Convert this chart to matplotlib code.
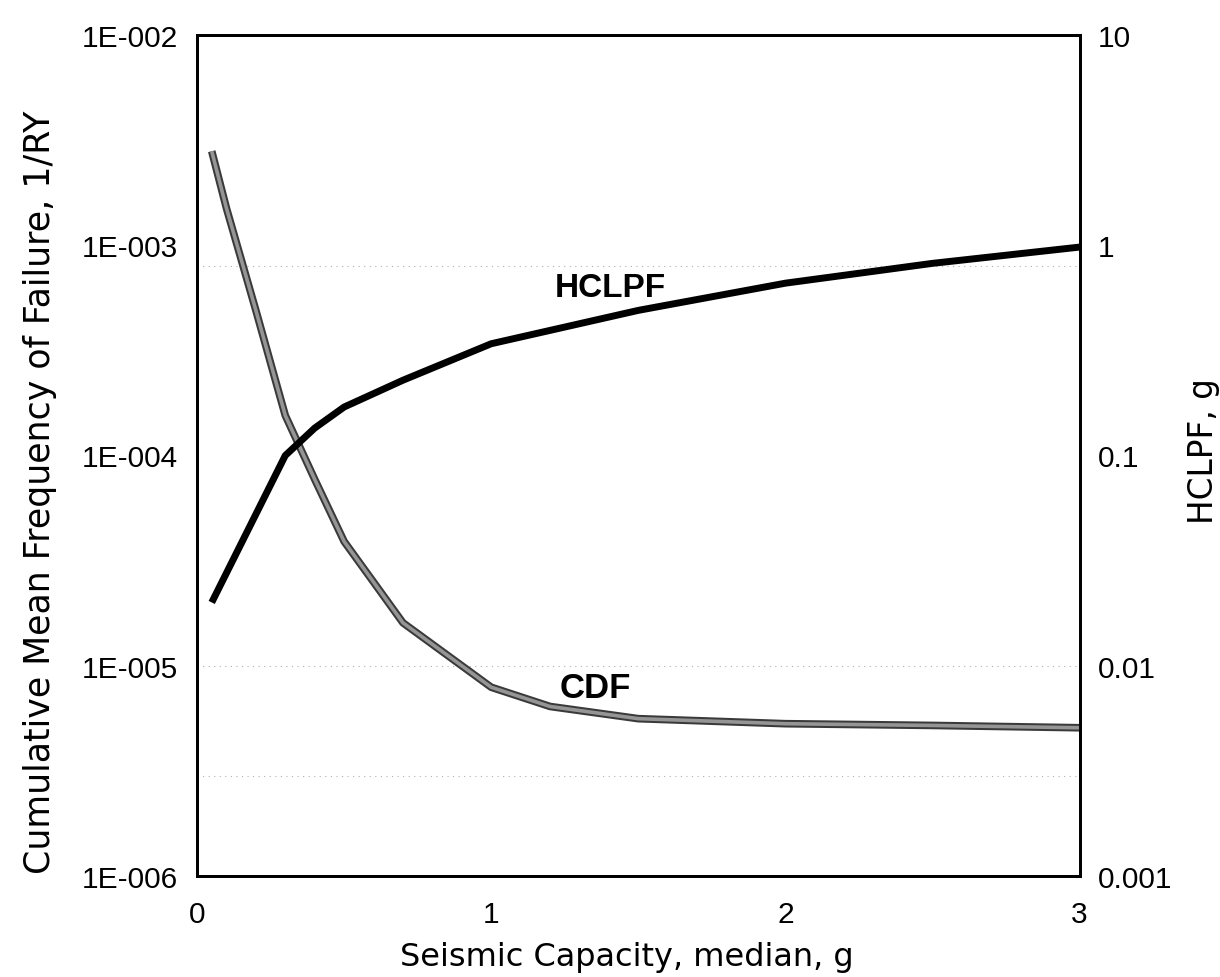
import matplotlib
matplotlib.use("Agg")
import matplotlib.pyplot as plt
import numpy as np

plt.rcParams['font.family'] = ['Liberation Sans', 'DejaVu Sans']

# CDF curve (left axis, 1/RY)
cdf_x = [0.05, 0.1, 0.2, 0.3, 0.4, 0.5, 0.6, 0.7, 1.0, 1.2, 1.5, 2.0, 2.5, 3.0]
cdf_y = [2.8e-3, 1.5e-3, 4.9e-4, 1.55e-4, 7.7e-5, 3.9e-5, 2.5e-5, 1.6e-5,
         7.9e-6, 6.4e-6, 5.6e-6, 5.3e-6, 5.2e-6, 5.07e-6]

# HCLPF curve (right axis, g)
hclpf_x = [0.05, 0.3, 0.4, 0.5, 0.7, 1.0, 1.5, 2.0, 2.5, 3.0]
hclpf_y = [0.02, 0.1, 0.135, 0.17, 0.228, 0.34, 0.49, 0.66, 0.82, 0.98]

left_ticks = [1e-6, 1e-5, 1e-4, 1e-3, 1e-2]
left_labels = ['1E-006', '1E-005', '1E-004', '1E-003', '1E-002']
right_ticks = [0.001, 0.01, 0.1, 1, 10]
right_labels = ['0.001', '0.01', '0.1', '1', '10']
x_ticks = [0, 1, 2, 3]

# faint dotted lines left over in the scan
grid_levels = [8e-4, 1e-5, 3e-6]

W, H = 1220, 978
fig = plt.figure(figsize=(W / 100, H / 100), dpi=100)
ax = fig.add_axes([0.1615, 0.1033, 0.7234, 0.8599])
ax2 = ax.twinx()

ax.set_yscale('log')
ax.set_ylim(1e-6, 1e-2)
ax.set_xlim(0, 3)
ax2.set_yscale('log')
ax2.set_ylim(0.001, 10)

for g in grid_levels:
    ax.axhline(g, color='#b0b0b0', lw=0.8, ls=(0, (1, 4)), zorder=0)

# CDF: grey line with darker edge
ax.plot(cdf_x, cdf_y, color='#3a3a3a', lw=5.5, solid_capstyle='butt', zorder=3)
ax.plot(cdf_x, cdf_y, color='#959595', lw=2.6, solid_capstyle='butt', zorder=4)
ax2.plot(hclpf_x, hclpf_y, color='black', lw=5, solid_capstyle='butt', zorder=5)

ax.text(1.355, 7.9e-6, 'CDF', fontsize=25, fontweight='bold', ha='center', va='center')
ax2.text(1.405, 0.63, 'HCLPF', fontsize=24, fontweight='bold', ha='center', va='center')

ax.set_yticks(left_ticks)
ax.set_yticklabels(left_labels)
ax.yaxis.set_minor_locator(matplotlib.ticker.NullLocator())
ax2.set_yticks(right_ticks)
ax2.set_yticklabels(right_labels)
ax2.yaxis.set_minor_locator(matplotlib.ticker.NullLocator())
ax.set_xticks(x_ticks)
ax.set_xticklabels([str(t) for t in x_ticks])

ax.tick_params(axis='y', length=0, labelsize=21.5, pad=14)
ax.tick_params(axis='x', length=0, labelsize=21.5, pad=17)
ax2.tick_params(axis='y', length=0, labelsize=21.5, pad=13)

for a in (ax, ax2):
    for s in a.spines.values():
        s.set_linewidth(2)
        s.set_color('black')

# axis titles placed where they sit in the scan
fig.text(627 / W, 1 - 958 / H, 'Seismic Capacity, median, g', fontsize=23,
         family='DejaVu Sans', ha='center', va='center')
fig.text(40 / W, 1 - 492 / H, 'Cumulative Mean Frequency of Failure, 1/RY', fontsize=25,
         family='DejaVu Sans', rotation=90, ha='center', va='center')
fig.text(1203 / W, 1 - 451 / H, 'HCLPF, g', fontsize=23.5,
         family='DejaVu Sans', rotation=90, ha='center', va='center')

fig.savefig('out.png', dpi=100)
